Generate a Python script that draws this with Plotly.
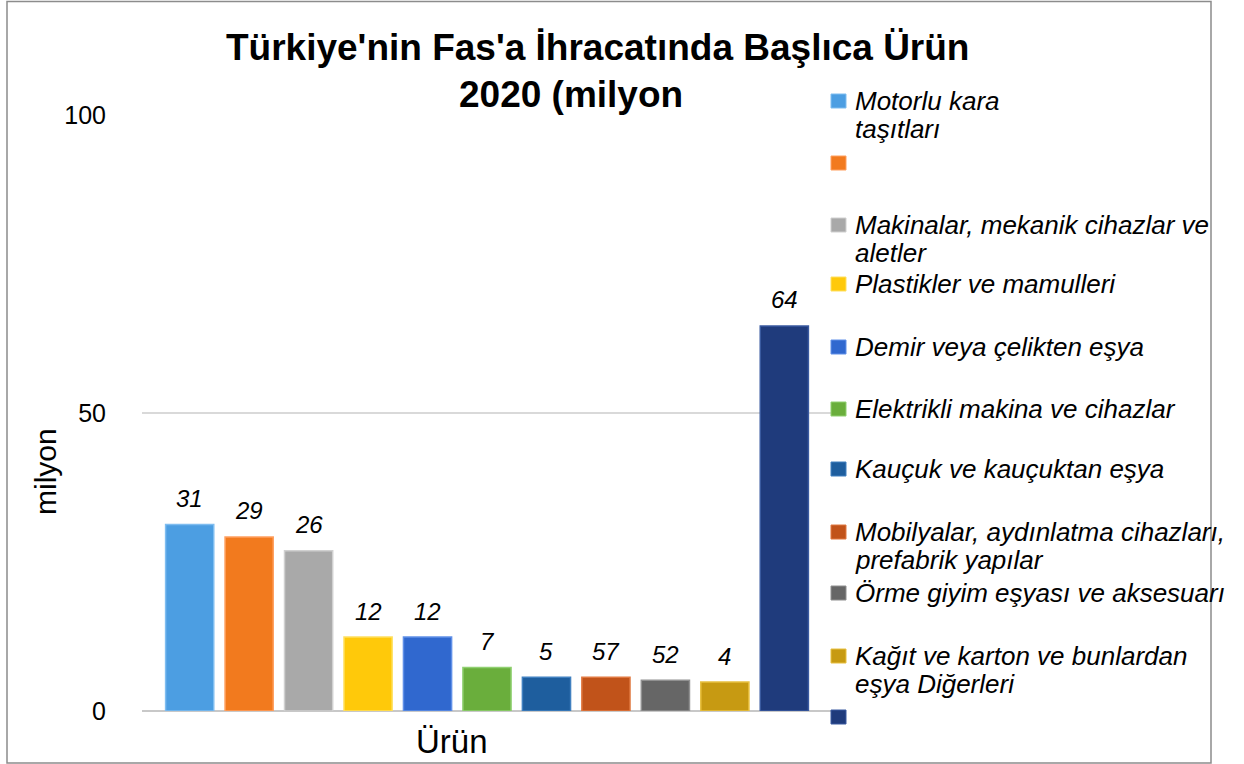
import plotly.graph_objects as go

# ---- data ----
category = "Ürün"
products = [
    "Motorlu kara<br>taşıtları",
    "",
    "Makinalar, mekanik cihazlar ve<br>aletler",
    "Plastikler ve mamulleri",
    "Demir veya çelikten eşya",
    "Elektrikli makina ve cihazlar",
    "Kauçuk ve kauçuktan eşya",
    "Mobilyalar, aydınlatma cihazları,<br>prefabrik yapılar",
    "Örme giyim eşyası ve aksesuarı",
    "Kağıt ve karton ve bunlardan<br>eşya Diğerleri",
    "",
]
values = [31.3, 29.2, 26.9, 12.4, 12.4, 7.3, 5.65, 5.65, 5.15, 4.85, 64.6]
value_labels = ["31", "29", "26", "12", "12", "7", "5", "57", "52", "4", "64"]
colors = ["#4c9ee2", "#f27a1e", "#a9a9a9", "#ffc90a", "#3068cf", "#6aae3c",
          "#1e5e9e", "#c1531a", "#666666", "#c79a12", "#1f3b7c"]
edge_colors = ["#7fbdf0", "#ffa060", "#d0d0d0", "#ffe060", "#6090e8", "#90d070",
               "#4080c0", "#e07840", "#909090", "#e8c040", "#3a5aa0"]
y_ticks = [0, 50, 100]
title_lines = ["Türkiye'nin Fas'a İhracatında Başlıca Ürün", "2020 (milyon"]

# ---- layout geometry (pixels) ----
W, H = 1244, 764
L, R, T, B = 142, 832, 115, 711
BARGAP, BARGROUPGAP = 0.052, 0.19

def xp(px):
    return (px - L) / (R - L)

def yp(py):
    return (B - py) / (B - T)

fig = go.Figure()
for i, v in enumerate(values):
    fig.add_trace(go.Bar(
        x=[category], y=[v],
        marker=dict(color=colors[i], line=dict(color=edge_colors[i], width=1.5)),
        showlegend=False,
    ))

font = "Arial"
ann = []
# value labels above the bars
slot = (1 - BARGAP) * (R - L) / len(values)
for i, v in enumerate(values):
    ann.append(dict(text=value_labels[i], x=category, y=v, xref="x", yref="y",
                    xshift=(i - (len(values) - 1) / 2) * slot, yshift=26,
                    showarrow=False, xanchor="center", yanchor="middle",
                    font=dict(family=font, size=24, color="black", style="italic")))
# title
ann.append(dict(text="<b>" + title_lines[0] + "</b>", x=xp(597), y=yp(47), xref="paper", yref="paper",
                showarrow=False, font=dict(family=font, size=37, color="black"), xanchor="center", yanchor="middle"))
ann.append(dict(text="<b>" + title_lines[1] + "</b>", x=xp(571), y=yp(95), xref="paper", yref="paper",
                showarrow=False, font=dict(family=font, size=37, color="black"), xanchor="center", yanchor="middle"))
# axis titles
ann.append(dict(text=category, x=xp(452), y=yp(741), xref="paper", yref="paper", showarrow=False,
                font=dict(family=font, size=33, color="black"), xanchor="center", yanchor="middle"))
ann.append(dict(text="milyon", x=xp(46), y=yp(472), xref="paper", yref="paper", showarrow=False, textangle=-90,
                font=dict(family=font, size=30, color="black"), xanchor="center", yanchor="middle"))

# custom legend
leg_centers = [101, 163, 225, 284, 347, 409, 469, 532, 593, 656, 717]
shapes = []
for i, cy in enumerate(leg_centers):
    shapes.append(dict(type="rect", xref="paper", yref="paper",
                       x0=xp(831), x1=xp(846), y0=yp(cy + 7), y1=yp(cy - 7),
                       fillcolor=colors[i], line=dict(color=edge_colors[i], width=1)))
    if products[i]:
        for k, line in enumerate(products[i].split("<br>")):
            ann.append(dict(text=line, x=xp(853), y=yp(cy + 28 * k), xref="paper", yref="paper",
                            showarrow=False, align="left", xanchor="left", yanchor="middle",
                            font=dict(family=font, size=26, color="black", style="italic")))

# chart border
shapes.append(dict(type="rect", xref="paper", yref="paper", x0=xp(7), x1=xp(1211), y0=yp(763), y1=yp(1.5),
                   line=dict(color="#8c8c8c", width=1.5), fillcolor="rgba(0,0,0,0)", layer="below"))

fig.update_layout(
    width=W, height=H,
    margin=dict(l=L, r=W - R, t=T, b=H - B, pad=0),
    paper_bgcolor="white", plot_bgcolor="white",
    barmode="group", bargap=BARGAP, bargroupgap=BARGROUPGAP,
    annotations=ann, shapes=shapes,
    xaxis=dict(showticklabels=False, showgrid=False, zeroline=False, showline=False, ticks=""),
    yaxis=dict(range=[0, 100], tickvals=y_ticks, showgrid=True, gridcolor="#d9d9d9", gridwidth=1.5,
               zeroline=True, zerolinecolor="#c8c8c8", zerolinewidth=2, showline=False, ticks="",
               ticklabelstandoff=35, tickfont=dict(family=font, size=25, color="black")),
    font=dict(family=font),
)
fig.write_html("out.html", config={"displayModeBar": False},
               post_script="document.body.style.margin='0px';document.body.style.overflow='hidden';")
